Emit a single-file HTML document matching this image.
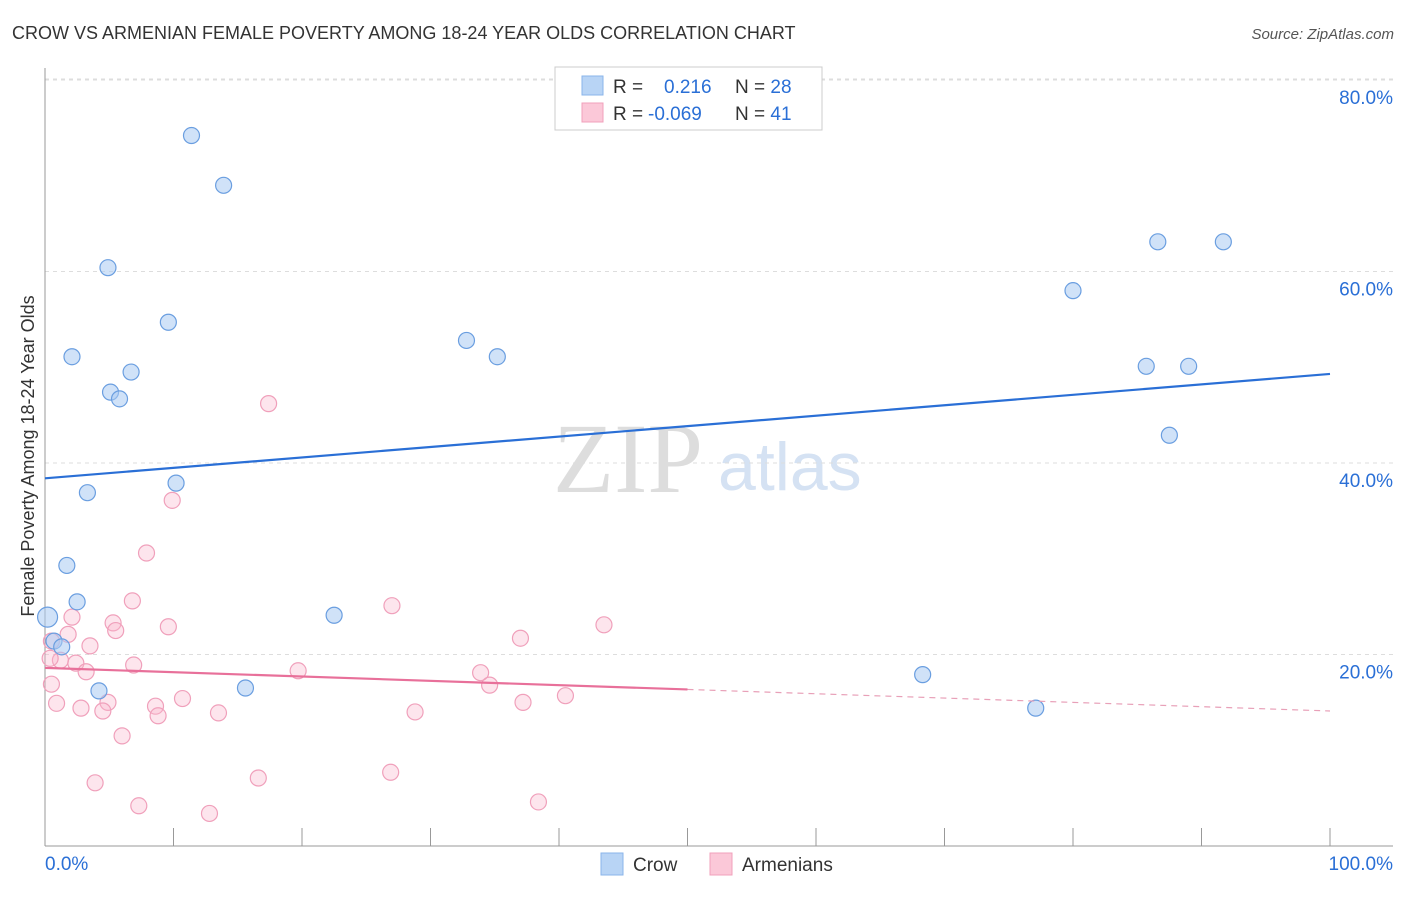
<!DOCTYPE html>
<html><head><meta charset="utf-8"><style>
body{margin:0;background:#fff;font-family:"Liberation Sans",sans-serif;}
</style></head><body>
<svg id="chart" width="1406" height="892" xmlns="http://www.w3.org/2000/svg" style="font-family:'Liberation Sans',sans-serif">
<text x="12" y="39" font-size="18" fill="#333">CROW VS ARMENIAN FEMALE POVERTY AMONG 18-24 YEAR OLDS CORRELATION CHART</text>
<text x="1394" y="39" font-size="15" fill="#555" font-style="italic" text-anchor="end">Source: ZipAtlas.com</text>
<g>
<text x="553" y="492" font-size="100" style="font-family:'Liberation Serif',serif" fill="#ddd">ZIP</text>
<text x="718" y="490" font-size="68" fill="#d5e2f3">atlas</text>
</g>
<g id="grid"></g>
<g id="axes"></g>
<g id="marks"></g>
<text transform="translate(34,456) rotate(-90)" font-size="18" fill="#333" text-anchor="middle">Female Poverty Among 18-24 Year Olds</text>
<g>
<rect x="555" y="67" width="267" height="63" fill="#fff" stroke="#ccc"/>
<rect x="582" y="76" width="21" height="19" fill="#b8d4f5" stroke="#8ab4ea"/>
<rect x="582" y="103" width="21" height="19" fill="#fbc8d8" stroke="#f0a0bb"/>
<text x="613" y="93" font-size="19" fill="#333">R = <tspan fill="#2a6fd6" x="664">0.216</tspan><tspan x="735" fill="#333">N = </tspan><tspan fill="#2a6fd6">28</tspan></text>
<text x="613" y="120" font-size="19" fill="#333">R = <tspan fill="#2a6fd6" x="648">-0.069</tspan><tspan x="735" fill="#333">N = </tspan><tspan fill="#2a6fd6">41</tspan></text>
</g>
<g>
<rect x="601" y="853" width="22" height="22" fill="#b8d4f5" stroke="#8ab4ea"/>
<text x="633" y="871" font-size="19" fill="#333">Crow</text>
<rect x="710" y="853" width="22" height="22" fill="#fbc8d8" stroke="#f0a0bb"/>
<text x="742" y="871" font-size="19" fill="#333">Armenians</text>
</g>
</svg>
<script>
const yTicks=[20,40,60,80];
const yTickLabels=["20.0%","40.0%","60.0%","80.0%"];
const xTicks=[0,10,20,30,40,50,60,70,80,90,100];
const xEndLabels=["0.0%","100.0%"];
const crowX=[11.4,13.9,4.9,9.6,2.1,6.7,5.1,5.8,32.8,35.2,10.2,3.3,1.7,2.5,0.2,0.7,1.3,4.2,15.6,22.5,68.3,77.1,80.0,86.6,91.7,85.7,89.0,87.5];
const crowY=[74.2,69.0,60.4,54.7,51.1,49.5,47.4,46.7,52.8,51.1,37.9,36.9,29.3,25.5,23.9,21.4,20.8,16.2,16.5,24.1,17.9,14.4,58.0,63.1,63.1,50.1,50.1,42.9];
const armX=[17.4,9.9,7.9,6.8,27.0,2.1,5.3,9.6,5.5,43.5,1.8,37.0,0.5,3.5,1.2,2.4,0.4,6.9,3.2,19.7,33.9,34.6,0.5,10.7,40.5,0.9,4.9,8.6,2.8,37.2,4.5,8.8,13.5,28.8,6.0,16.6,26.9,3.9,7.3,38.4,12.8];
const armY=[46.2,36.1,30.6,25.6,25.1,23.9,23.3,22.9,22.5,23.1,22.1,21.7,21.4,20.9,19.4,19.1,19.6,18.9,18.2,18.3,18.1,16.8,16.9,15.4,15.7,14.9,15.0,14.6,14.4,15.0,14.1,13.6,13.9,14.0,11.5,7.1,7.7,6.6,4.2,4.6,3.4];
const crowTrend=[38.4,49.3];
const armTrend=[18.6,14.1];
const armSolidEnd=50;

const X0=45,X1=1330,Y0=846,PY=9.575;
const sx=v=>X0+(X1-X0)*v/100;
const sy=v=>Y0-v*PY;
const NS="http://www.w3.org/2000/svg";
function mk(parent,tag,attrs){const e=document.createElementNS(NS,tag);for(const k in attrs)e.setAttribute(k,attrs[k]);document.getElementById(parent).appendChild(e);return e;}
yTicks.forEach((t,i)=>{
 const g=mk('grid','line',{x1:45,x2:1393,y1:sy(t),y2:sy(t),stroke:'#ddd','stroke-dasharray':'4,4'});
 
 
 const l=mk('axes','text',{x:1393,y:sy(t)+24,'font-size':19,fill:'#2a6fd6','text-anchor':'end'});
 l.textContent=yTickLabels[i];
 
 
});
const topGrid=mk('grid','line',{x1:45,x2:1393,y1:79,y2:79,stroke:'#ddd','stroke-dasharray':'4,4'});


const ya=mk('axes','line',{x1:45,x2:45,y1:68,y2:846,stroke:'#999'});


const xa=mk('axes','line',{x1:45,x2:1393,y1:846,y2:846,stroke:'#999'});


xTicks.forEach(t=>{
 const k=mk('axes','line',{x1:sx(t),x2:sx(t),y1:828,y2:846,stroke:'#999'});
 
 
});
const xl0=mk('axes','text',{x:45,y:870,'font-size':19,fill:'#2a6fd6'});
xl0.textContent=xEndLabels[0];


const xl1=mk('axes','text',{x:1393,y:870,'font-size':19,fill:'#2a6fd6','text-anchor':'end'});
xl1.textContent=xEndLabels[1];



armX.forEach((v,i)=>{
 const c=mk('marks','circle',{cx:sx(v),cy:sy(armY[i]),r:8,fill:'rgba(248,180,202,0.35)',stroke:'#f0a0bb','stroke-width':1.2});
 
 
});
crowX.forEach((v,i)=>{
 const c=mk('marks','circle',{cx:sx(v),cy:sy(crowY[i]),r:(v<0.5?10:8),fill:'rgba(170,202,242,0.55)',stroke:'#6a9ee0','stroke-width':1.2});
 
 
});
const ct=mk('marks','line',{x1:sx(0),y1:sy(crowTrend[0]),x2:sx(100),y2:sy(crowTrend[1]),stroke:'#2a6fd6','stroke-width':2.2});


const midY=armTrend[0]+(armTrend[1]-armTrend[0])*armSolidEnd/100;
const at=mk('marks','line',{x1:sx(0),y1:sy(armTrend[0]),x2:sx(armSolidEnd),y2:sy(midY),stroke:'#e8709a','stroke-width':2.2});


const ad=mk('marks','line',{x1:sx(armSolidEnd),y1:sy(midY),x2:sx(100),y2:sy(armTrend[1]),stroke:'#e8a0b8','stroke-width':1.2,'stroke-dasharray':'6,5'});


</script>
</body></html>
